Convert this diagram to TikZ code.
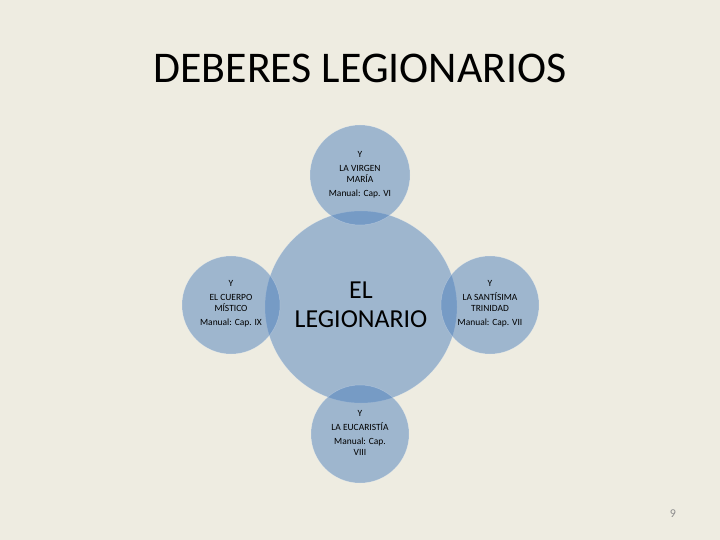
\documentclass[tikz,border=0pt]{standalone}
\usepackage{fontspec}
\setmainfont{Carlito}
\definecolor{bg}{HTML}{EEECE1}
\definecolor{accent}{HTML}{4F81BD}
\definecolor{pagegray}{HTML}{8C8C8C}
\tikzset{
  disc/.style={fill=accent, fill opacity=0.5, draw=white, draw opacity=0.25, line width=0.5bp},
  small/.style={align=center, text=black, font=\fontsize{9.5}{11}\selectfont, inner sep=0pt},
}
\begin{document}
\begin{tikzpicture}[x=1bp,y=-1bp]
\fill[bg] (0,0) rectangle (720,540);
\useasboundingbox (0,0) rectangle (720,540);
\node[font=\fontsize{44}{48}\selectfont, text=black] (title) at (360,68) {DEBERES LEGIONARIOS};
% circles
\path[disc] (361,307) circle (96);
\path[disc] (360,175) circle (50);
\path[disc] (231,305) circle (49);
\path[disc] (490,305) circle (49);
\path[disc] (360,434) circle (49);
% texts
\node[align=center, font=\fontsize{26}{29}\selectfont, inner sep=0pt] (center) at (361,305) {EL\\LEGIONARIO};
\node[small] (top) at (360,175) {Y\\[3pt]LA VIRGEN\\MARÍA\\[3pt]Manual: Cap. VI};
\node[small] (left) at (231,304) {Y\\[3pt]EL CUERPO\\MÍSTICO\\[3pt]Manual: Cap. IX};
\node[small] (right) at (490,304) {Y\\[3pt]LA SANTÍSIMA\\TRINIDAD\\[3pt]Manual: Cap. VII};
\node[small] (bottom) at (360,433) {Y\\[3pt]LA EUCARISTÍA\\[3pt]Manual: Cap.\\VIII};
\node[text=pagegray, font=\fontsize{12}{14}\selectfont] (page) at (673,514) {9};
\end{tikzpicture}
\end{document}
